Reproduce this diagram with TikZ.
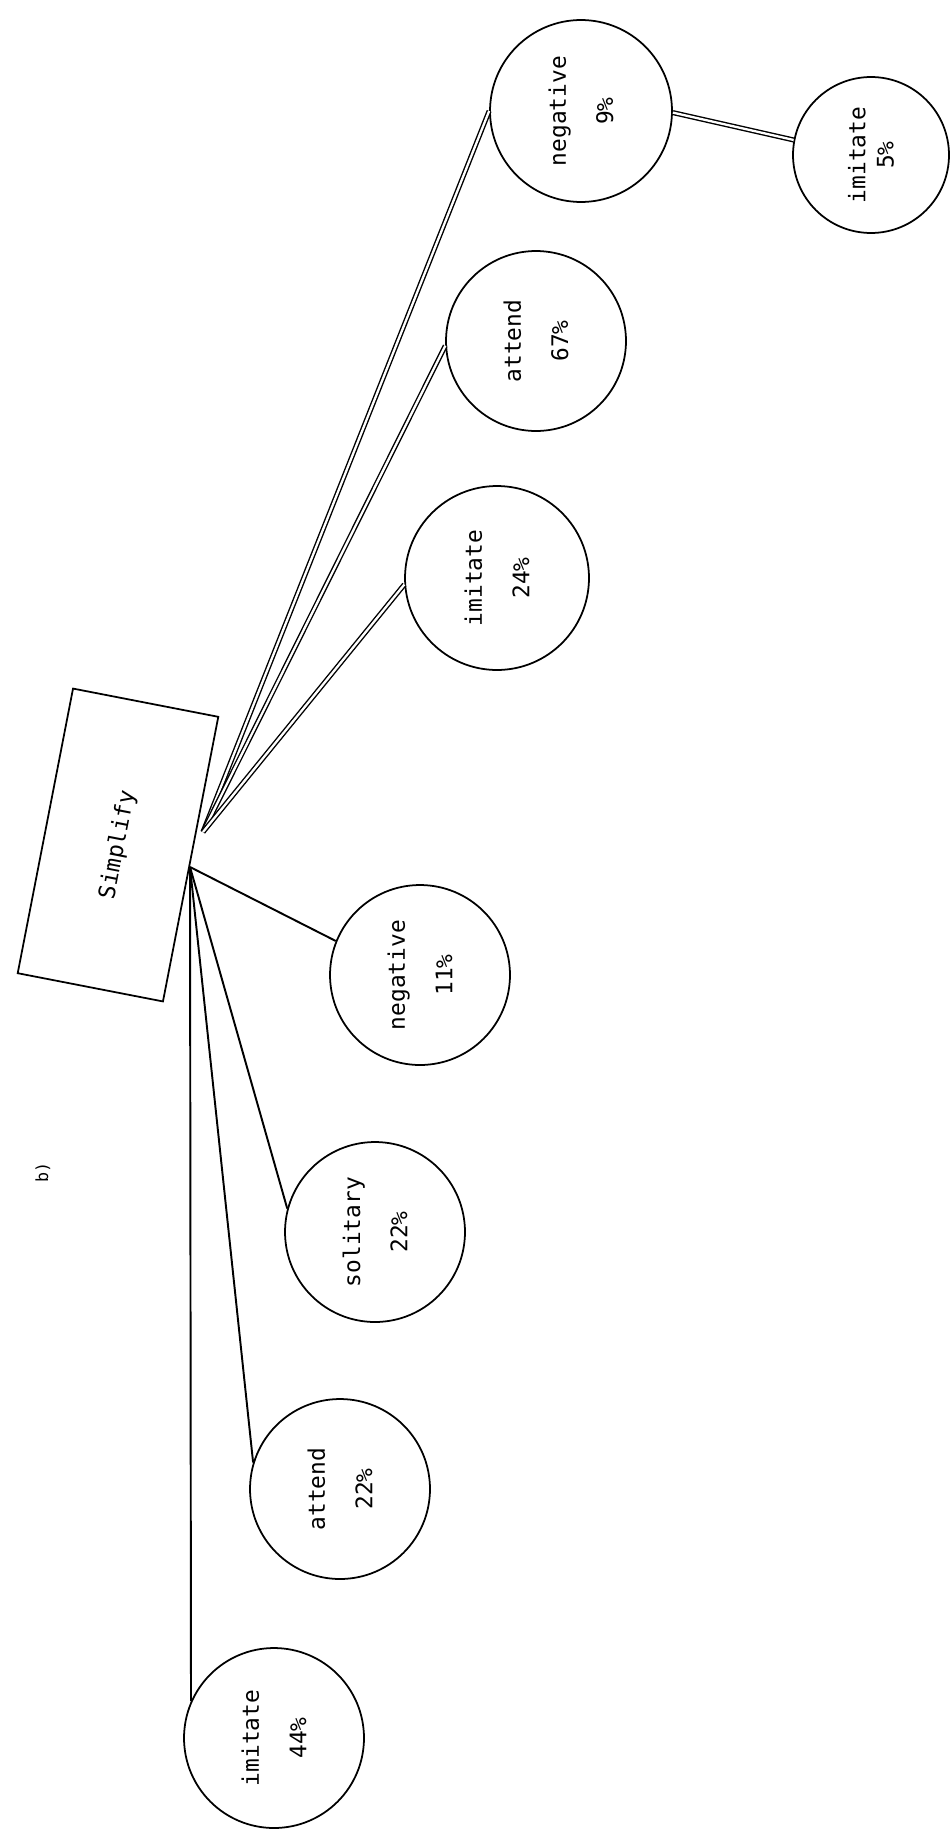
\documentclass[tikz,border=0pt]{standalone}
\usepackage{fontspec}
\setmonofont{DejaVu Sans Mono}
\usetikzlibrary{positioning}
\tikzset{
  leaf/.style={circle, draw, line width=1pt, minimum size=3.6cm, inner sep=0pt, rotate=90, align=center, font=\ttfamily\fontsize{13}{27}\selectfont},
  dline/.style={double, double distance=1.3pt, line width=0.8pt},
  sline/.style={line width=1.1pt},
}

\begin{document}
\begin{tikzpicture}[x=0.02cm, y=-0.02cm]
    \useasboundingbox (0,0) rectangle (950,1835);
    % Root box
    \node[draw, line width=1pt, rotate=79, minimum width=5.8cm, minimum height=2.96cm, font=\ttfamily\fontsize{13}{16}\selectfont] (simp) at (118,845) {Simplify};
    \coordinate (hub1) at (203,832);
    \coordinate (hub2) at (190,867);
    \node[rotate=90, font=\ttfamily\fontsize{9.5}{11}\selectfont] (lab) at (43,1172) {b)};
    % Upper branch
    \node[leaf, minimum size=3.64cm] (neg9) at (581,111) {negative\\9\%};
    \node[leaf, minimum size=3.12cm, font=\ttfamily\fontsize{13}{16}\selectfont] (imi5) at (871,155) {imitate\\5\%};
    \node[leaf] (att67) at (536,341) {attend\\67\%};
    \node[leaf, minimum size=3.68cm] (imi24) at (497,578) {imitate\\24\%};
    % Lower branch
    \node[leaf] (neg11) at (420,975) {negative\\11\%};
    \node[leaf] (sol22) at (375,1232) {solitary\\22\%};
    \node[leaf] (att22) at (340,1489) {attend\\22\%};
    \node[leaf] (imi44) at (274,1738) {imitate\\44\%};
    % Connectors
    \draw[dline] (hub1) -- (neg9.north);
    \draw[dline] (hub1) -- (att67.93);
    \draw[dline] (hub1) -- (imi24.94);
    \draw[dline] (neg9.269) -- (imi5.79);
    \draw[sline] (hub2) -- (neg11.68);
    \draw[sline] (hub2) -- (sol22.75);
    \draw[sline] (hub2) -- (att22.73);
    \draw[sline] (hub2) -- (imi44.66);
\end{tikzpicture}
\end{document}
